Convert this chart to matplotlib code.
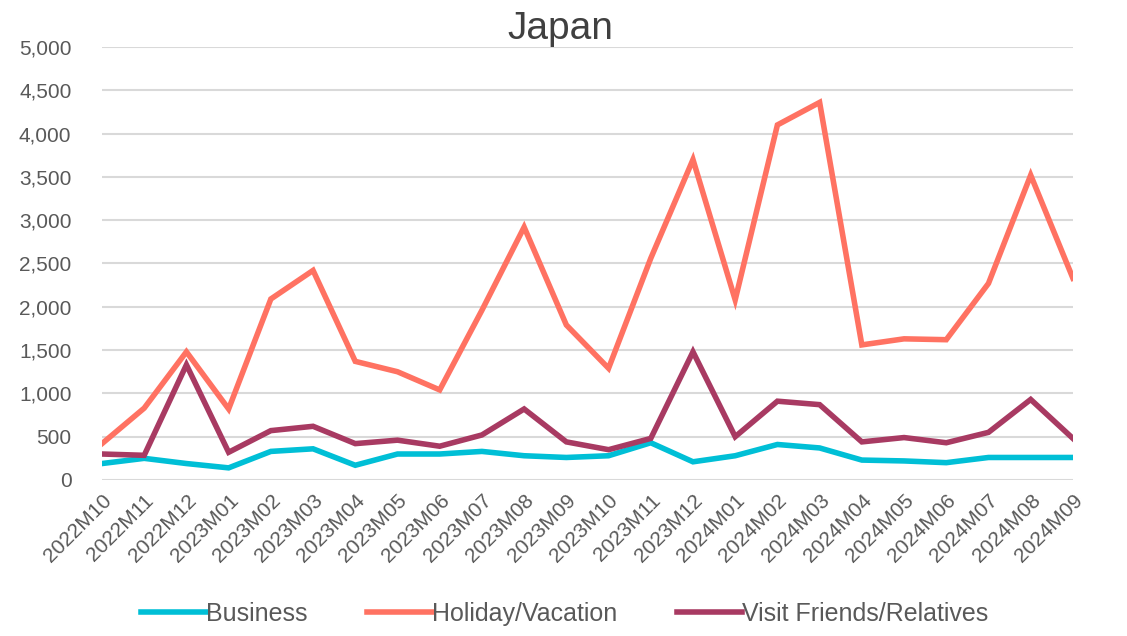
import numpy as np
import matplotlib.pyplot as plt
from matplotlib.ticker import FuncFormatter

plt.rcParams['font.family'] = ['Liberation Sans', 'DejaVu Sans']

months = ['2022M10', '2022M11', '2022M12', '2023M01', '2023M02', '2023M03',
          '2023M04', '2023M05', '2023M06', '2023M07', '2023M08', '2023M09',
          '2023M10', '2023M11', '2023M12', '2024M01', '2024M02', '2024M03',
          '2024M04', '2024M05', '2024M06', '2024M07', '2024M08', '2024M09']

business = [190, 250, 190, 140, 330, 360, 170, 300, 300, 330, 280, 260,
            280, 430, 210, 280, 410, 370, 230, 220, 200, 260, 260, 260]
holiday = [420, 830, 1480, 820, 2090, 2420, 1370, 1250, 1040, 1960, 2920, 1790,
           1290, 2560, 3700, 2080, 4100, 4360, 1560, 1630, 1620, 2270, 3520, 2330]
vfr = [300, 285, 1330, 320, 570, 620, 420, 460, 390, 520, 820, 440,
       350, 480, 1480, 500, 910, 870, 440, 490, 430, 550, 930, 480]

fig = plt.figure(figsize=(11.27, 6.36), dpi=100)
ax = fig.add_axes([0.0905, 0.2453, 0.8615, 0.6808])

x = np.arange(len(months))
ax.plot(x, business, color='#00BFD6', lw=4, label='Business', solid_joinstyle='miter')
ax.plot(x, holiday, color='#FF7262', lw=4, label='Holiday/Vacation', solid_joinstyle='miter')
ax.plot(x, vfr, color='#A83A62', lw=4, label='Visit Friends/Relatives', solid_joinstyle='miter')

ax.set_xlim(0, len(months) - 1)
ax.set_ylim(0, 5000)
ax.set_yticks(np.arange(0, 5001, 500))
ax.yaxis.set_major_formatter(FuncFormatter(lambda v, p: f'{int(v):,}'))
ax.set_xticks(x)
ax.set_xticklabels(months, rotation=45, ha='right', rotation_mode='anchor')
ax.tick_params(axis='x', length=0, labelsize=15, colors='#595959', pad=8)
ax.tick_params(axis='y', length=0, labelsize=15, colors='#595959', pad=22)
ax.grid(axis='y', color='#D9D9D9', lw=1.5)
ax.set_axisbelow(True)
for s in ax.spines.values():
    s.set_visible(False)

fig.suptitle('Japan', fontsize=28, color='#404040', x=0.497, y=0.983)
fig.legend(loc='lower center', ncol=3, frameon=False, fontsize=18,
           bbox_to_anchor=(0.501, -0.02), handlelength=2.6, handletextpad=0.0,
           columnspacing=2.4, labelcolor='#595959')

fig.savefig('out.png', dpi=100)
